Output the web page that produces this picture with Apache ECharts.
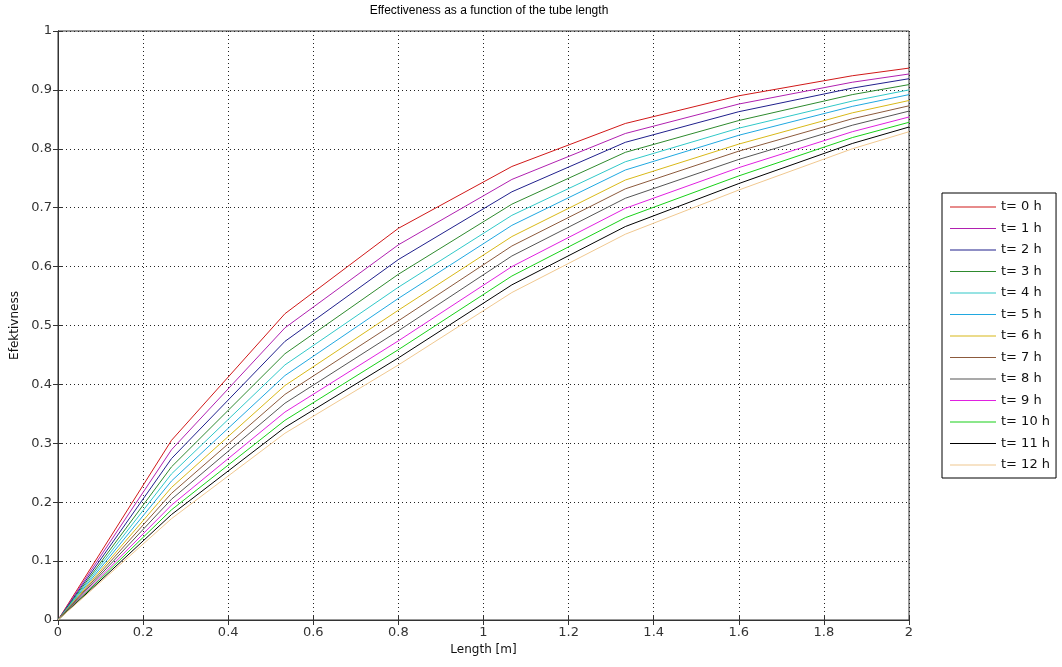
<!DOCTYPE html>
<html>
<head>
<meta charset="utf-8">
<script src="https://cdn.jsdelivr.net/npm/echarts@6/dist/echarts.min.js"></script>
<style>html,body{margin:0;padding:0;background:#fff;}#c{width:1062px;height:667px;}</style>
</head>
<body>
<div id="c"></div>
<script>
// Tube length [m]
const lengths = [0, 0.2667, 0.5333, 0.8, 1.0667, 1.3333, 1.6, 1.8667, 2];
const seriesNames = ['t= 0 h','t= 1 h','t= 2 h','t= 3 h','t= 4 h','t= 5 h','t= 6 h','t= 7 h','t= 8 h','t= 9 h','t= 10 h','t= 11 h','t= 12 h'];
const t0  = [0, 0.305, 0.520, 0.665, 0.770, 0.843, 0.890, 0.924, 0.937];
const t1  = [0, 0.289, 0.496, 0.637, 0.748, 0.826, 0.876, 0.913, 0.927];
const t2  = [0, 0.274, 0.473, 0.612, 0.727, 0.811, 0.863, 0.903, 0.919];
const t3  = [0, 0.260, 0.452, 0.587, 0.706, 0.794, 0.848, 0.892, 0.909];
const t4  = [0, 0.248, 0.433, 0.565, 0.687, 0.778, 0.835, 0.881, 0.900];
const t5  = [0, 0.236, 0.415, 0.546, 0.670, 0.764, 0.823, 0.872, 0.892];
const t6  = [0, 0.225, 0.398, 0.526, 0.651, 0.747, 0.808, 0.861, 0.882];
const t7  = [0, 0.215, 0.383, 0.508, 0.635, 0.732, 0.796, 0.851, 0.873];
const t8  = [0, 0.205, 0.368, 0.491, 0.618, 0.716, 0.782, 0.840, 0.864];
const t9  = [0, 0.195, 0.353, 0.474, 0.600, 0.699, 0.768, 0.829, 0.854];
const t10 = [0, 0.187, 0.339, 0.459, 0.584, 0.683, 0.754, 0.819, 0.845];
const t11 = [0, 0.179, 0.327, 0.445, 0.569, 0.668, 0.741, 0.809, 0.837];
const t12 = [0, 0.172, 0.317, 0.433, 0.556, 0.655, 0.730, 0.800, 0.829];
const allValues = [t0,t1,t2,t3,t4,t5,t6,t7,t8,t9,t10,t11,t12];
const colors = ['#d01818','#b020b0','#20208c','#2e8a2e','#30c8c8','#20a8e0','#d8b818','#8c5a3c','#555555','#e020e0','#18d018','#000000','#f0c890'];

const FONT = 'DejaVu Sans';
const series = seriesNames.map((name, i) => ({
  name: name,
  type: 'line',
  xAxisIndex: 0, yAxisIndex: 0,
  data: lengths.map((x, j) => [x, allValues[i][j]]),
  symbol: 'none',
  smooth: false,
  lineStyle: { width: 1, color: colors[i] },
  itemStyle: { color: colors[i] },
  emphasis: { disabled: true },
  animation: false
}));

const chart = echarts.init(document.getElementById('c'), null, { renderer: 'canvas' });
chart.setOption({
  backgroundColor: '#ffffff',
  animation: false,
  title: {
    text: 'Effectiveness as a function of the tube length',
    left: 484, top: 0, textAlign: 'center',
    textStyle: { fontFamily: 'Liberation Sans', fontSize: 12, fontWeight: 'normal', color: '#000' }
  },
  grid: { left: 58, right: 153, top: 31, bottom: 47, show: true, borderColor: '#333', borderWidth: 1, backgroundColor: '#fff' },
  legend: {
    orient: 'vertical', left: 942, top: 193,
    data: seriesNames,
    icon: 'rect', itemWidth: 46, itemHeight: 1, itemGap: 7.5,
    padding: [7, 6, 6, 8],
    borderColor: '#000', borderWidth: 1, backgroundColor: '#fff', borderRadius: 0,
    textStyle: { fontFamily: FONT, fontSize: 13, color: '#111', lineHeight: 14, padding: [0, 0, 0, 0] }
  },
  xAxis: [{
    type: 'value', min: 0, max: 2, interval: 0.2, position: 'bottom',
    name: 'Length [m]', nameLocation: 'middle', nameGap: 22,
    nameTextStyle: { fontFamily: FONT, fontSize: 12, color: '#111' },
    axisLine: { show: true, lineStyle: { color: '#333' } },
    axisTick: { show: true, inside: true, length: 5, lineStyle: { color: '#333' } },
    axisLabel: { fontFamily: FONT, fontSize: 13, color: '#333', margin: 6 },
    splitLine: { show: true, lineStyle: { type: [1, 3], color: '#222', width: 1 } }
  }, {
    type: 'value', min: 0, max: 2, interval: 0.2, position: 'top',
    axisLine: { show: true, lineStyle: { color: '#333' } },
    axisTick: { show: true, inside: true, length: 5, lineStyle: { color: '#333' } },
    axisLabel: { show: false }, splitLine: { show: false }
  }],
  yAxis: [{
    type: 'value', min: 0, max: 1, interval: 0.1, position: 'left',
    name: 'Efektivness', nameLocation: 'middle', nameGap: 35, nameRotate: 90,
    nameTextStyle: { fontFamily: FONT, fontSize: 12, color: '#111' },
    axisLine: { show: true, lineStyle: { color: '#333' } },
    axisTick: { show: true, inside: true, length: 5, lineStyle: { color: '#333' } },
    axisLabel: { fontFamily: FONT, fontSize: 13, color: '#333', margin: 6 },
    splitLine: { show: true, lineStyle: { type: [1, 3], color: '#222', width: 1 } }
  }, {
    type: 'value', min: 0, max: 1, interval: 0.1, position: 'right',
    axisLine: { show: true, lineStyle: { color: '#333' } },
    axisTick: { show: true, inside: true, length: 5, lineStyle: { color: '#333' } },
    axisLabel: { show: false }, splitLine: { show: false }
  }],
  series: series
});
</script>
</body>
</html>
